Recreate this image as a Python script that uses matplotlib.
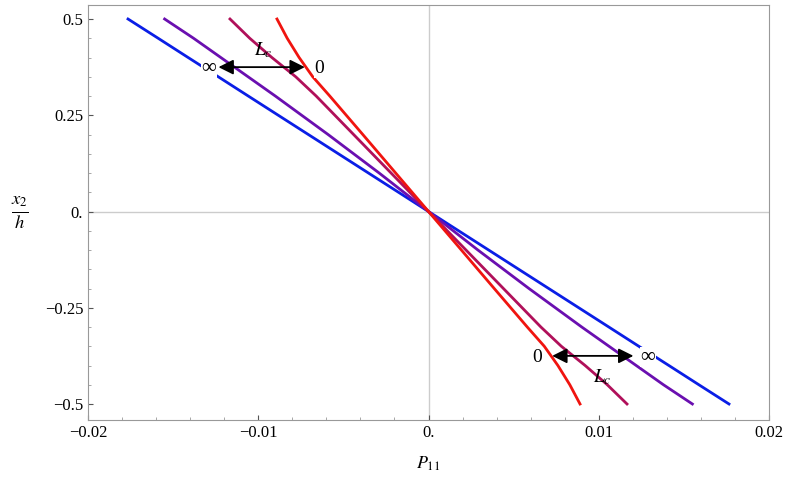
import numpy as np
import matplotlib
matplotlib.use("Agg")
import matplotlib.pyplot as plt

plt.rcParams['font.family'] = 'Liberation Serif'
plt.rcParams['mathtext.fontset'] = 'stix'

x2_half = [0.0, 0.1, 0.2, 0.3, 0.35, 0.4, 0.45, 0.5]
red_half = [0.0, -0.00193, -0.00386, -0.0058, -0.0068, -0.0076, -0.0083, -0.0089]
magenta_half = [0.0, -0.0022, -0.0044, -0.0066, -0.0078, -0.0092, -0.0105, -0.01166]
purple_half = [0.0, -0.0029, -0.0059, -0.0090, -0.0106, -0.0122, -0.0138, -0.0155]
blue_half = [0.0, -0.00353, -0.00706, -0.01059, -0.01235, -0.01412, -0.01588, -0.01765]

x2 = np.array([-v for v in x2_half[:0:-1]] + x2_half)
series = [(blue_half, '#0a1ee6'), (purple_half, '#6a0fb0'), (magenta_half, '#b0105a'), (red_half, '#f0140f')]

fig = plt.figure(figsize=(7.89, 4.92), dpi=100)
ax = fig.add_axes([88/789, 1-420/492, (769-88)/789, (420-5)/492])
for h, c in series:
    p = np.array([-v for v in h[:0:-1]] + h)
    ax.plot(p, x2, color=c, lw=2)
ax.axhline(0, color='#cccccc', lw=1, zorder=0)
ax.axvline(0, color='#cccccc', lw=1, zorder=0)
ax.set_xlim(-0.02, 0.02)
ax.set_ylim(-0.5 - 16/385, 0.5 + 14/385)
ax.set_xticks([-0.02, -0.01, 0, 0.01, 0.02])
ax.set_xticklabels(['\u22120.02', '\u22120.01', '0.', '0.01', '0.02'])
ax.set_yticks([-0.5, -0.25, 0, 0.25, 0.5])
ax.set_yticklabels(['\u22120.5', '\u22120.25', '0.', '0.25', '0.5'])
ax.set_xticks(np.arange(-0.02, 0.0201, 0.002), minor=True)
ax.set_yticks(np.arange(-0.5, 0.51, 0.05), minor=True)
for s in ax.spines.values():
    s.set_color('#999999')
ax.tick_params(colors='#555555', labelcolor='black', labelsize=12, direction='in')
ax.tick_params(which='minor', length=2, direction='in', colors='#999999')
ax.set_xlabel('$P_{11}$', fontsize=13, labelpad=10)
ax.set_ylabel(r'$\frac{x_2}{h}$', fontsize=19, rotation=0, labelpad=18, va='center')

akw = dict(arrowstyle='<|-|>,head_length=0.9,head_width=0.45', color='black', lw=1.3)
ax.annotate('', xy=(-0.0125, 0.375), xytext=(-0.0071, 0.375), arrowprops=akw)
ax.annotate('', xy=(0.0071, -0.375), xytext=(0.0122, -0.375), arrowprops=akw)
ax.text(-0.0129, 0.372, '\u221e', fontsize=15, ha='center', va='center', bbox=dict(fc='white', ec='none', pad=0.5))
ax.text(-0.0064, 0.372, '0', fontsize=14, ha='center', va='center', bbox=dict(fc='white', ec='none', pad=0.5))
ax.text(-0.0097, 0.42, '$L_c$', fontsize=14, ha='center', va='center')
ax.text(0.0064, -0.378, '0', fontsize=14, ha='center', va='center', bbox=dict(fc='white', ec='none', pad=0.5))
ax.text(0.0129, -0.378, '\u221e', fontsize=15, ha='center', va='center', bbox=dict(fc='white', ec='none', pad=0.5))
ax.text(0.0102, -0.43, '$L_c$', fontsize=14, ha='center', va='center')

fig.savefig('out.png', dpi=100)
